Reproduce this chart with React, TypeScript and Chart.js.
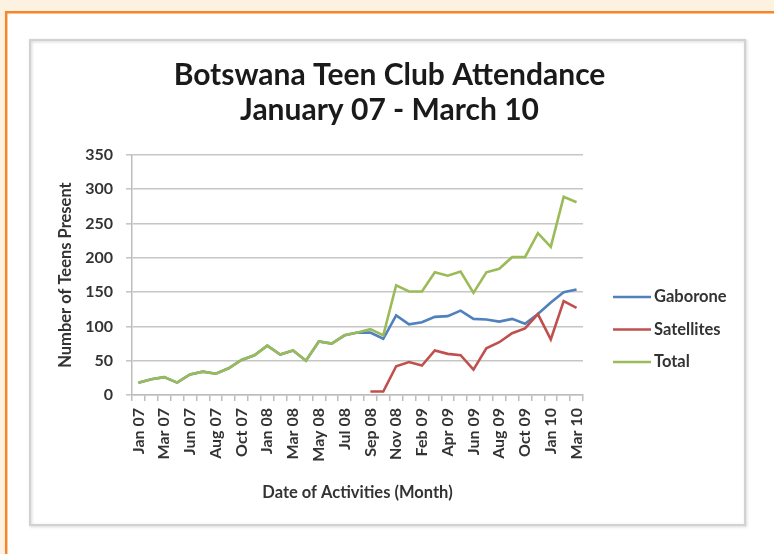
import React, { useEffect, useRef } from 'react';
import { Chart, registerables } from 'chart.js';

Chart.register(...registerables);

const categories = [
  'Jan 07', 'Feb 07', 'Mar 07', 'Apr 07', 'Jun 07', 'Jul 07', 'Aug 07', 'Sep 07', 'Oct 07', 'Nov 07',
  'Jan 08', 'Feb 08', 'Mar 08', 'Apr 08', 'May 08', 'Jun 08', 'Jul 08', 'Aug 08', 'Sep 08', 'Oct 08',
  'Nov 08', 'Dec 08', 'Feb 09', 'Mar 09', 'Apr 09', 'May 09', 'Jun 09', 'Jul 09', 'Aug 09', 'Sep 09',
  'Oct 09', 'Nov 09', 'Jan 10', 'Feb 10', 'Mar 10',
];

const gaborone = [
  18, 23, 26, 18, 30, 34, 31, 39, 51, 58,
  72, 59, 65, 50, 78, 75, 87, 91, 91, 82,
  116, 103, 106, 114, 115, 123, 111, 110, 107, 111,
  104, 118, 135, 150, 154,
];

const satellites = [
  null, null, null, null, null, null, null, null, null, null,
  null, null, null, null, null, null, null, null, 5, 5,
  42, 48, 43, 65, 60, 58, 37, 68, 77, 90,
  97, 118, 81, 137, 127,
];

const total = [
  18, 23, 26, 18, 30, 34, 31, 39, 51, 58,
  72, 59, 65, 50, 78, 75, 87, 91, 96, 87,
  160, 151, 151, 179, 174, 180, 149, 179, 184, 201,
  201, 236, 216, 289, 281,
];

const seriesNames = ['Gaborone', 'Satellites', 'Total'];
const seriesColors = ['#4f81bd', '#c0504d', '#9bbb59'];

const titleLines = ['Botswana Teen Club Attendance', 'January 07 - March 10'];
const yTitle = 'Number of Teens Present';
const xTitle = 'Date of Activities (Month)';

const FONT = "Lato, 'Open Sans', sans-serif";

const backgroundPlugin = {
  id: 'pageBackground',
  beforeDraw(chart: any) {
    const { ctx, width, height } = chart;
    ctx.save();
    ctx.fillStyle = '#fdf1e2';
    ctx.fillRect(0, 0, width, height);
    ctx.fillStyle = '#ffffff';
    ctx.fillRect(5, 11, width - 5, height - 11);
    ctx.strokeStyle = '#f5862a';
    ctx.lineWidth = 2.5;
    ctx.beginPath();
    ctx.moveTo(6.2, height);
    ctx.lineTo(6.2, 12.2);
    ctx.lineTo(width, 12.2);
    ctx.stroke();
    // chart box
    ctx.shadowColor = 'rgba(0,0,0,0.18)';
    ctx.shadowBlur = 3;
    ctx.shadowOffsetX = 1;
    ctx.shadowOffsetY = 1;
    ctx.strokeStyle = '#d2d2d2';
    ctx.lineWidth = 2;
    ctx.strokeRect(30, 40, 715, 485);
    ctx.restore();
  },
};

const legendPlugin = {
  id: 'sideLegend',
  afterDraw(chart: any) {
    const { ctx, chartArea } = chart;
    const x0 = chartArea.right + 30;
    const y0 = chartArea.top + 142;
    ctx.save();
    ctx.font = `bold 16.5px ${FONT}`;
    ctx.textBaseline = 'middle';
    ctx.textAlign = 'left';
    chart.data.datasets.forEach((ds: any, i: number) => {
      const y = y0 + i * 32.5;
      ctx.strokeStyle = ds.borderColor;
      ctx.lineWidth = 2.5;
      ctx.beginPath();
      ctx.moveTo(x0, y);
      ctx.lineTo(x0 + 38, y);
      ctx.stroke();
      ctx.fillStyle = '#333333';
      ctx.fillText(ds.label, x0 + 41, y);
    });
    ctx.restore();
  },
};

export default function App() {
  const ref = useRef<HTMLCanvasElement>(null);

  useEffect(() => {
    if (!ref.current) return;
    const chart = new Chart(ref.current, {
      type: 'line',
      data: {
        labels: categories,
        datasets: [
          { label: seriesNames[0], data: gaborone, borderColor: seriesColors[0], backgroundColor: seriesColors[0], order: 2 },
          { label: seriesNames[1], data: satellites, borderColor: seriesColors[1], backgroundColor: seriesColors[1], order: 1 },
          { label: seriesNames[2], data: total, borderColor: seriesColors[2], backgroundColor: seriesColors[2], order: 0 },
        ] as any,
      },
      options: {
        responsive: false,
        animation: false,
        devicePixelRatio: 1,
        layout: { padding: { left: 34, right: 29, top: 40, bottom: 29 } },
        elements: {
          line: { borderWidth: 2.6, tension: 0 },
          point: { radius: 0, hoverRadius: 0 },
        },
        plugins: {
          legend: { display: false },
          tooltip: { enabled: false },
          title: {
            display: true,
            text: titleLines,
            color: '#1a1a1a',
            font: { family: FONT, size: 30, weight: 'bold', lineHeight: 35 / 30 },
            padding: { top: 17.5, bottom: 27.5 },
          },
        },
        scales: {
          x: {
            type: 'category',
            offset: true,
            grid: {
              display: true,
              offset: true,
              drawOnChartArea: false,
              drawTicks: true,
              tickLength: 6,
              color: '#bdbdbd',
              lineWidth: 1.5,
            },
            border: { display: true, color: '#bdbdbd', width: 1.5 },
            ticks: {
              autoSkip: false,
              maxRotation: 90,
              minRotation: 90,
              padding: 7,
              color: '#333333',
              font: { family: FONT, size: 16, weight: 'bold' },
              callback: (_v: any, i: number) => (i % 2 === 0 ? categories[i] : ''),
            },
            title: {
              display: true,
              text: xTitle,
              color: '#333333',
              font: { family: FONT, size: 16.5, weight: 'bold', lineHeight: 1.2 },
              padding: { top: 0, bottom: 22.1 },
            },
            afterFit: (s: any) => { s.height = 130; },
          },
          y: {
            min: 0,
            max: 350,
            ticks: {
              stepSize: 50,
              padding: 13,
              color: '#333333',
              font: { family: FONT, size: 16, weight: 'bold' },
            },
            grid: { color: '#c6c6c6', lineWidth: 1.6, tickLength: 6, drawTicks: true },
            border: { display: true, color: '#bdbdbd', width: 1.5 },
            title: {
              display: true,
              text: yTitle,
              color: '#333333',
              font: { family: FONT, size: 16.5, weight: 'bold', lineHeight: 1.2 },
              padding: { top: 22.1, bottom: 0 },
            },
            afterFit: (s: any) => { s.width = 98; },
          },
          legendSpace: {
            type: 'linear',
            position: 'right',
            display: true,
            grid: { display: false },
            border: { display: false },
            ticks: { display: false },
            title: { display: false },
            afterFit: (s: any) => { s.width = 162; },
          },
        } as any,
      },
      plugins: [backgroundPlugin, legendPlugin],
    });
    return () => chart.destroy();
  }, []);

  return (
    <div style={{ position: 'fixed', left: 0, top: 0, width: 774, height: 554 }}>
      <canvas ref={ref} width={774} height={554} style={{ display: 'block', width: 774, height: 554 }} />
    </div>
  );
}
